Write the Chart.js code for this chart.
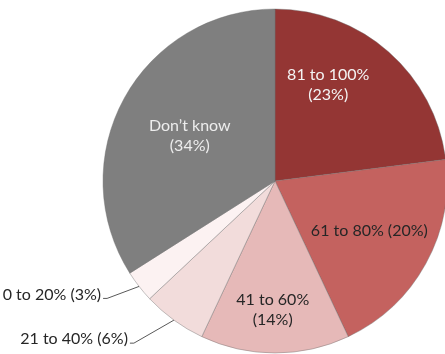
<!DOCTYPE html>
<html>
<head>
<meta charset="utf-8">
<script src="https://cdn.jsdelivr.net/npm/chart.js@4/dist/chart.umd.min.js"></script>
<style>
    html, body { margin: 0; padding: 0; background: #fff; overflow: hidden; }
    #wrap { position: relative; width: 445px; height: 354px; }
</style>
</head>
<body>
<div id="wrap"><canvas id="pie"></canvas></div>
<script>
    // 数据
    const categories = ['81 to 100%', '61 to 80%', '41 to 60%', '21 to 40%', '0 to 20%', 'Don\u2019t know'];
    const shares = [23, 20, 14, 6, 3, 34];
    const sliceColors = ['#943634', '#C4625F', '#E6B9B8', '#F2DCDB', '#FCF2F2', '#7F7F7F'];

    // 标签布局：inside 为扇区内，outside 带引线
    const labelLayout = [
        { mode: 'inside', lines: 2, shift: -12.5, frac: 0.64, color: '#F4F4F4' },
        { mode: 'inside', lines: 1, shift: -1, frac: 0.62, color: '#262626' },
        { mode: 'inside', lines: 2, shift: 1, frac: 0.75, color: '#262626' },
        { mode: 'outside', dx: -40, dy: 23, color: '#262626' },
        { mode: 'outside', dx: -32, dy: 12, color: '#262626' },
        { mode: 'inside', lines: 2, shift: -1, frac: 0.56, color: '#EDEDED' },
    ];

    const FONT = '16px Lato, "Open Sans", sans-serif';
    const LINE_H = 20.5;

    const sliceLabels = {
        id: 'sliceLabels',
        afterDatasetsDraw(chart) {
            const ctx = chart.ctx;
            const arcs = chart.getDatasetMeta(0).data;
            ctx.save();
            ctx.font = FONT;
            arcs.forEach((arc, i) => {
                const cfg = labelLayout[i];
                const p = arc.getProps(['x', 'y', 'startAngle', 'endAngle', 'outerRadius'], true);
                const mid = (p.startAngle + p.endAngle) / 2;
                const text = categories[i] + ' (' + shares[i] + '%)';
                ctx.fillStyle = cfg.color;

                if (cfg.mode === 'inside') {
                    const a = mid + cfg.shift * Math.PI / 180;
                    const r = p.outerRadius * cfg.frac;
                    const cx = p.x + Math.cos(a) * r;
                    const cy = p.y + Math.sin(a) * r;
                    ctx.textAlign = 'center';
                    ctx.textBaseline = 'middle';
                    if (cfg.lines === 2) {
                        ctx.fillText(categories[i], cx, cy - LINE_H / 2);
                        ctx.fillText('(' + shares[i] + '%)', cx, cy + LINE_H / 2);
                    } else {
                        ctx.fillText(text, cx, cy);
                    }
                } else {
                    // 引线从扇区边缘中点出发
                    const x0 = p.x + Math.cos(mid) * p.outerRadius;
                    const y0 = p.y + Math.sin(mid) * p.outerRadius;
                    const x1 = x0 + cfg.dx;
                    const y1 = y0 + cfg.dy;
                    ctx.strokeStyle = '#595959';
                    ctx.lineWidth = 1;
                    ctx.beginPath();
                    ctx.moveTo(x0, y0);
                    ctx.lineTo(x1, y1);
                    ctx.lineTo(x1 - 4, y1);
                    ctx.stroke();
                    ctx.textAlign = 'right';
                    ctx.textBaseline = 'middle';
                    ctx.fillText(text, x1 - 6, y1 - 4);
                }
            });
            ctx.restore();
        }
    };

    new Chart(document.getElementById('pie'), {
        type: 'pie',
        data: {
            labels: categories,
            datasets: [{
                data: shares,
                backgroundColor: sliceColors,
                borderColor: 'rgba(110, 110, 110, 0.55)',
                borderWidth: 0.75,
                radius: 172,
            }],
        },
        options: {
            responsive: true,
            maintainAspectRatio: false,
            animation: false,
            layout: { padding: { left: 110, right: 5, top: 12, bottom: 4 } },
            plugins: {
                legend: { display: false },
                tooltip: { enabled: false },
            },
        },
        plugins: [sliceLabels],
    });
</script>
</body>
</html>
